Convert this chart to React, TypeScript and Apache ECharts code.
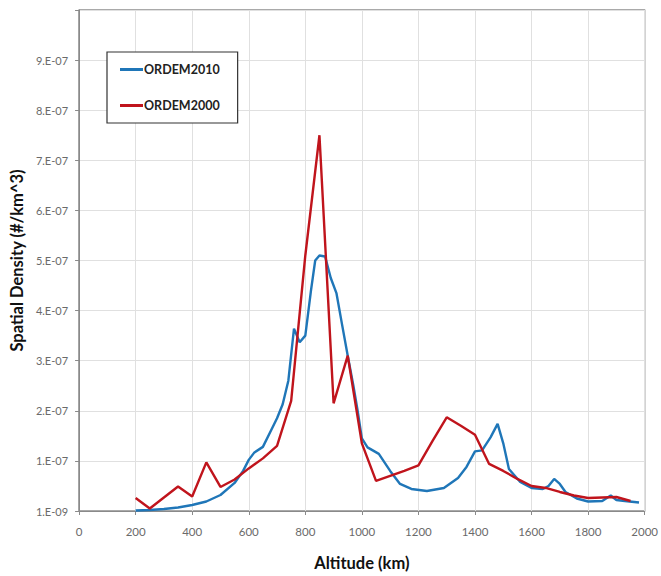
import React, { useEffect, useRef } from "react";
import * as echarts from "echarts";

// Altitude (km) and spatial density in units of 1e-7 #/km^3
const ordem2000Alt = [200, 250, 300, 350, 400, 450, 500, 550, 600, 650, 700, 750, 800, 850, 900, 950, 1000, 1050, 1100, 1150, 1200, 1250, 1300, 1350, 1400, 1450, 1500, 1550, 1600, 1650, 1700, 1750, 1800, 1850, 1900, 1950];
const ordem2000Val = [0.26, 0.05, 0.27, 0.49, 0.29, 0.97, 0.48, 0.63, 0.85, 1.05, 1.3, 2.2, 5.1, 7.5, 2.15, 3.1, 1.35, 0.6, 0.7, 0.8, 0.91, 1.4, 1.87, 1.7, 1.52, 0.94, 0.8, 0.64, 0.5, 0.46, 0.38, 0.31, 0.26, 0.27, 0.28, 0.2];

const ordem2010Alt = [200, 250, 300, 350, 400, 450, 500, 550, 580, 600, 620, 650, 680, 700, 720, 740, 760, 780, 800, 820, 835, 850, 870, 890, 910, 930, 950, 970, 985, 1000, 1020, 1060, 1100, 1135, 1175, 1230, 1290, 1340, 1370, 1400, 1425, 1455, 1480, 1500, 1520, 1560, 1600, 1640, 1660, 1680, 1700, 1720, 1760, 1800, 1850, 1880, 1900, 1930, 1980];
const ordem2010Val = [0.01, 0.02, 0.04, 0.07, 0.12, 0.19, 0.32, 0.56, 0.8, 1.02, 1.17, 1.28, 1.62, 1.85, 2.13, 2.6, 3.64, 3.37, 3.5, 4.4, 5.0, 5.1, 5.08, 4.65, 4.35, 3.72, 3.1, 2.5, 2.0, 1.45, 1.27, 1.14, 0.8, 0.54, 0.44, 0.4, 0.46, 0.66, 0.88, 1.19, 1.21, 1.47, 1.74, 1.35, 0.84, 0.58, 0.46, 0.44, 0.5, 0.64, 0.54, 0.38, 0.25, 0.19, 0.2, 0.31, 0.22, 0.2, 0.17];

const seriesNames = ["ORDEM2010", "ORDEM2000"];
const xTicks = [0, 200, 400, 600, 800, 1000, 1200, 1400, 1600, 1800, 2000];

const FONT = "Lato, 'Open Sans', sans-serif";

export default function App() {
  const ref = useRef<HTMLDivElement>(null);
  useEffect(() => {
    if (!ref.current) return;
    const chart = echarts.init(ref.current, undefined, { renderer: "svg" });
    chart.setOption({
      animation: false,
      backgroundColor: "#ffffff",
      textStyle: { fontFamily: FONT },
      grid: {
        left: 78,
        right: 12,
        top: 10,
        bottom: 62,
        show: true,
        borderColor: "#555555",
        borderWidth: 1.2,
      },
      legend: {
        data: seriesNames,
        orient: "vertical",
        left: 107,
        top: 52,
        padding: [11, 18, 11, 13],
        itemGap: 23,
        itemWidth: 23,
        itemHeight: 3,
        icon: "rect",
        borderColor: "#333333",
        borderWidth: 1.2,
        backgroundColor: "#ffffff",
        textStyle: { fontFamily: FONT, fontWeight: "bold", fontSize: 12.5, color: "#222222", padding: [0, 0, 0, -4] },
      },
      xAxis: {
        type: "value",
        min: 0,
        max: 2000,
        interval: 200,
        name: "Altitude (km)",
        nameLocation: "middle",
        nameGap: 43,
        nameTextStyle: { fontFamily: FONT, fontWeight: "bold", fontSize: 16.5, color: "#111111" },
        axisLine: { show: true, lineStyle: { color: "#8a8a8a", width: 1 } },
        axisTick: { show: true, inside: false, length: 4, lineStyle: { color: "#8a8a8a" } },
        axisLabel: {
          color: "#6a6a6a",
          fontSize: 11.5,
          margin: 14,
          formatter: (v: number) => (xTicks.includes(v) ? String(v) : ""),
        },
        splitLine: { show: true, lineStyle: { color: "#e0e0e0", width: 1 } },
      },
      yAxis: {
        type: "value",
        min: 0,
        max: 10,
        interval: 1,
        name: "Spatial Density (#/km^3)",
        nameLocation: "middle",
        nameGap: 51,
        nameTextStyle: { fontFamily: FONT, fontWeight: "bold", fontSize: 16.5, color: "#111111" },
        axisLine: { show: true, lineStyle: { color: "#8a8a8a", width: 1 } },
        axisTick: { show: true, inside: false, length: 4, lineStyle: { color: "#8a8a8a" } },
        axisLabel: {
          color: "#6a6a6a",
          fontSize: 11,
          margin: 11,
          formatter: (v: number) => (v === 0 ? "1.E-09" : v >= 10 ? "" : `${v}.E-07`),
        },
        splitLine: { show: true, lineStyle: { color: "#e0e0e0", width: 1 } },
      },
      series: [
        {
          name: seriesNames[0],
          type: "line",
          data: ordem2010Alt.map((a, i) => [a, ordem2010Val[i]]),
          showSymbol: false,
          symbol: "none",
          lineStyle: { color: "#1f76b8", width: 2.4 },
          itemStyle: { color: "#1f76b8" },
          z: 3,
        },
        {
          name: seriesNames[1],
          type: "line",
          data: ordem2000Alt.map((a, i) => [a, ordem2000Val[i]]),
          showSymbol: false,
          symbol: "none",
          lineStyle: { color: "#c0141c", width: 2.4 },
          itemStyle: { color: "#c0141c" },
          z: 4,
        },
      ],
    });
    return () => chart.dispose();
  }, []);
  return (
    <div
      ref={ref}
      style={{ position: "fixed", left: 0, top: 0, width: 661, height: 576, background: "#fff" }}
    />
  );
}
